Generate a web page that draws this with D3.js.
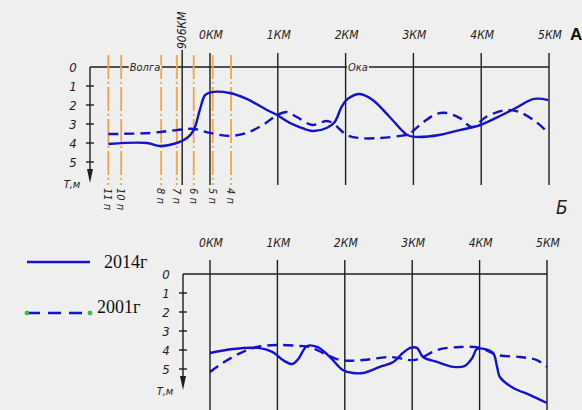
<!DOCTYPE html>
<html>
<head>
<meta charset="utf-8">
<script src="https://cdn.jsdelivr.net/npm/d3@7"></script>
<style>
  body { margin: 0; background: #efefef; }
  svg { display: block; }
  .gost { font-family: "Liberation Sans Narrow", "DejaVu Sans Condensed", sans-serif; font-style: italic; fill: #222; }
</style>
</head>
<body>
<div id="chart"></div>
<script>
// distances along the river, km (0КМ = mouth of Oka)
const kmTicks = [0, 1, 2, 3, 4, 5]
const depthTicks = [0, 1, 2, 3, 4, 5]

// Volga marker and profile lines for panel A
const volgaMarkKm = -0.41
const profileNames = ['11 п', '10 п', '8 п', '7 п', '6 п', '5 п', '4 п']
const profileKm = [-1.5, -1.31, -0.72, -0.49, -0.24, 0.04, 0.31]

// panel A: depth (m) vs km
const a2014Km = [-1.5, -0.93, -0.74, -0.49, -0.34, -0.24, -0.15, -0.07, 0.03, 0.29, 0.54, 0.84, 0.99, 1.18, 1.32, 1.51, 1.72, 1.84, 1.94, 2.03, 2.21, 2.4, 2.65, 2.91, 3.04, 3.38, 3.68, 3.94, 4.22, 4.51, 4.78, 4.99]
const a2014Depth = [4.05, 4.0, 4.16, 4.0, 3.74, 3.32, 2.26, 1.47, 1.32, 1.37, 1.68, 2.26, 2.53, 2.95, 3.16, 3.37, 3.21, 2.89, 2.1, 1.68, 1.42, 1.74, 2.63, 3.58, 3.68, 3.58, 3.32, 3.11, 2.68, 2.16, 1.68, 1.74]
const a2001Km = [-1.5, -0.88, -0.49, -0.24, 0.0, 0.29, 0.54, 0.78, 0.99, 1.13, 1.28, 1.51, 1.72, 1.81, 2.02, 2.21, 2.5, 2.79, 2.93, 3.13, 3.34, 3.49, 3.68, 3.87, 4.07, 4.37, 4.56, 4.81, 4.99]
const a2001Depth = [3.53, 3.47, 3.32, 3.26, 3.47, 3.63, 3.47, 3.05, 2.53, 2.37, 2.63, 3.05, 2.84, 2.95, 3.58, 3.74, 3.74, 3.63, 3.53, 2.95, 2.47, 2.42, 2.68, 3.16, 2.63, 2.26, 2.37, 2.89, 3.47]

// panel Б
const b2014Km = [0, 0.34, 0.7, 0.93, 1.08, 1.22, 1.31, 1.44, 1.59, 1.78, 1.97, 2.12, 2.27, 2.52, 2.72, 2.86, 2.97, 3.07, 3.16, 3.37, 3.61, 3.78, 3.89, 3.96, 4.08, 4.2, 4.26, 4.3, 4.5, 4.75, 5.0]
const b2014Depth = [4.16, 3.95, 3.89, 4.11, 4.53, 4.74, 4.47, 3.79, 3.84, 4.37, 5.05, 5.21, 5.21, 4.89, 4.63, 4.16, 3.89, 3.89, 4.37, 4.63, 4.89, 4.84, 4.42, 3.95, 3.95, 4.16, 4.89, 5.42, 6.0, 6.37, 6.79]
const b2001Km = [0, 0.19, 0.45, 0.7, 0.99, 1.34, 1.48, 1.68, 1.93, 2.27, 2.67, 3.01, 3.16, 3.37, 3.71, 4.01, 4.26, 4.6, 4.85, 5.0]
const b2001Depth = [5.16, 4.68, 4.16, 3.84, 3.74, 3.79, 3.84, 4.16, 4.53, 4.53, 4.37, 4.53, 4.37, 4.0, 3.84, 3.89, 4.26, 4.37, 4.53, 4.89]

const seriesNames = ['2014г', '2001г']

const W = 582, H = 410
const blue = '#1212d0'
const orange = '#f2a445'
const ink = '#1e1e1e'
const bg = '#efefef'

const svg = d3.select('#chart').append('svg')
  .attr('width', W).attr('height', H)

svg.append('rect').attr('width', W).attr('height', H).attr('fill', bg)

const zip = (xs, ys) => xs.map((x, i) => [x, ys[i]])

function panel (opt) {
  const x = d3.scaleLinear().domain([0, 5]).range([opt.x0, opt.x5])
  const y = d3.scaleLinear().domain([0, 5]).range([opt.y0, opt.y5])
  const g = svg.append('g')

  // vertical km lines
  g.selectAll('.km').data(kmTicks).enter().append('line')
    .attr('x1', d => x(d)).attr('x2', d => x(d))
    .attr('y1', opt.lineTop).attr('y2', opt.lineBottom)
    .attr('stroke', ink).attr('stroke-width', 1.4)

  g.selectAll('.kmlabel').data(kmTicks).enter().append('text')
    .attr('class', 'gost')
    .attr('x', d => x(d) + 1).attr('y', opt.labelY)
    .attr('text-anchor', 'middle').attr('dy', '0.35em')
    .attr('font-size', 12)
    .text(d => d + 'КМ')

  // surface line
  g.append('line')
    .attr('x1', opt.axisX).attr('x2', x(5))
    .attr('y1', y(0)).attr('y2', y(0))
    .attr('stroke', ink).attr('stroke-width', 1.4)

  // depth axis
  g.append('line')
    .attr('x1', opt.axisX).attr('x2', opt.axisX)
    .attr('y1', y(0)).attr('y2', opt.arrowY - 10)
    .attr('stroke', ink).attr('stroke-width', 1.4)
  g.append('path')
    .attr('d', `M${opt.axisX - 3},${opt.arrowY - 14}L${opt.axisX + 3},${opt.arrowY - 14}L${opt.axisX},${opt.arrowY}Z`)
    .attr('fill', ink)
  g.selectAll('.tk').data(depthTicks.slice(1)).enter().append('line')
    .attr('x1', opt.axisX - 4).attr('x2', opt.axisX + 4)
    .attr('y1', d => y(d)).attr('y2', d => y(d))
    .attr('stroke', ink).attr('stroke-width', 1.4)
  g.selectAll('.tl').data(depthTicks).enter().append('text')
    .attr('class', 'gost')
    .attr('x', opt.axisX - 17).attr('y', d => y(d))
    .attr('dy', '0.35em').attr('text-anchor', 'middle')
    .attr('font-size', 13)
    .text(d => d)
  g.append('text').attr('class', 'gost')
    .attr('x', opt.axisX - 18).attr('y', opt.arrowY + 1)
    .attr('dy', '0.35em').attr('text-anchor', 'middle')
    .attr('font-size', 11)
    .text('Т,м')

  return { g, x, y }
}

const line = (x, y) => d3.line()
  .x(d => x(d[0])).y(d => y(d[1]))
  .curve(d3.curveCatmullRom.alpha(0.5))

// ---------- panel A ----------
const A = panel({ x0: 210, x5: 549, y0: 67, y5: 162, axisX: 90, lineTop: 53, lineBottom: 185, labelY: 35, arrowY: 183 })

// Volga km marker
A.g.append('line')
  .attr('x1', A.x(volgaMarkKm)).attr('x2', A.x(volgaMarkKm))
  .attr('y1', 50).attr('y2', 185)
  .attr('stroke', ink).attr('stroke-width', 1.4)
A.g.append('text').attr('class', 'gost')
  .attr('transform', `translate(${A.x(volgaMarkKm) + 4},49) rotate(-90)`)
  .attr('font-size', 12)
  .text('906КМ')

// profile lines
A.g.selectAll('.prof').data(profileKm).enter().append('line')
  .attr('x1', d => A.x(d)).attr('x2', d => A.x(d))
  .attr('y1', 55).attr('y2', 185)
  .attr('stroke', orange).attr('stroke-width', 1.8)
  .attr('stroke-dasharray', '24,3,2,3')
A.g.selectAll('.proflabel').data(profileNames).enter().append('text')
  .attr('class', 'gost')
  .attr('transform', (d, i) => `translate(${A.x(profileKm[i]) - 4},188) rotate(90)`)
  .attr('font-size', 11)
  .text(d => d)

// river names on surface line
const rivers = [{ name: 'Волга', x: 145 }, { name: 'Ока', x: 358 }]
rivers.forEach(r => {
  const t = A.g.append('text').attr('class', 'gost')
    .attr('x', r.x).attr('y', A.y(0)).attr('dy', '0.35em')
    .attr('text-anchor', 'middle').attr('font-size', 11)
    .text(r.name)
  const bb = t.node().getBBox()
  A.g.insert('rect', () => t.node())
    .attr('x', bb.x - 1).attr('y', A.y(0) - 2).attr('width', bb.width + 2).attr('height', 4)
    .attr('fill', bg)
})

A.g.append('path').datum(zip(a2001Km, a2001Depth))
  .attr('d', line(A.x, A.y)).attr('fill', 'none')
  .attr('stroke', blue).attr('stroke-width', 2.4).attr('stroke-dasharray', '10,6')
A.g.append('path').datum(zip(a2014Km, a2014Depth))
  .attr('d', line(A.x, A.y)).attr('fill', 'none')
  .attr('stroke', blue).attr('stroke-width', 2.4)

svg.append('text').attr('x', 570).attr('y', 40)
  .attr('font-family', 'Liberation Sans, sans-serif').attr('font-weight', 'bold')
  .attr('font-size', 17).attr('fill', '#111').text('А')

// ---------- panel Б ----------
const B = panel({ x0: 210, x5: 547, y0: 274, y5: 369, axisX: 183, lineTop: 260, lineBottom: 412, labelY: 243, arrowY: 390 })

B.g.append('path').datum(zip(b2001Km, b2001Depth))
  .attr('d', line(B.x, B.y)).attr('fill', 'none')
  .attr('stroke', blue).attr('stroke-width', 2.4).attr('stroke-dasharray', '10,6')
B.g.append('path').datum(zip(b2014Km, b2014Depth))
  .attr('d', line(B.x, B.y)).attr('fill', 'none')
  .attr('stroke', blue).attr('stroke-width', 2.4)

svg.append('text').attr('class', 'gost').attr('x', 556).attr('y', 214)
  .attr('font-family', 'DejaVu Sans, sans-serif').attr('font-style', 'italic')
  .attr('font-size', 19).attr('fill', '#111').text('Б')

// ---------- legend ----------
const legend = svg.append('g')
const legendY = [262, 313]
legend.selectAll('.ll').data(seriesNames).enter().append('line')
  .attr('x1', 27).attr('x2', 90)
  .attr('y1', (d, i) => legendY[i]).attr('y2', (d, i) => legendY[i])
  .attr('stroke', blue).attr('stroke-width', 2.6)
  .attr('stroke-dasharray', (d, i) => i ? '13,8' : null)
legend.selectAll('.dot').data([27, 90]).enter().append('circle')
  .attr('cx', d => d).attr('cy', legendY[1]).attr('r', 2)
  .attr('fill', '#3c3').attr('stroke', '#292').attr('stroke-width', 0.6)
legend.selectAll('.lt').data(seriesNames).enter().append('text')
  .attr('x', (d, i) => i ? 97 : 104)
  .attr('y', (d, i) => i ? 307 : 262)
  .attr('dy', '0.35em')
  .attr('font-family', 'Liberation Serif, serif')
  .attr('font-size', 18).attr('fill', '#111')
  .text(d => d)
</script>
</body>
</html>
